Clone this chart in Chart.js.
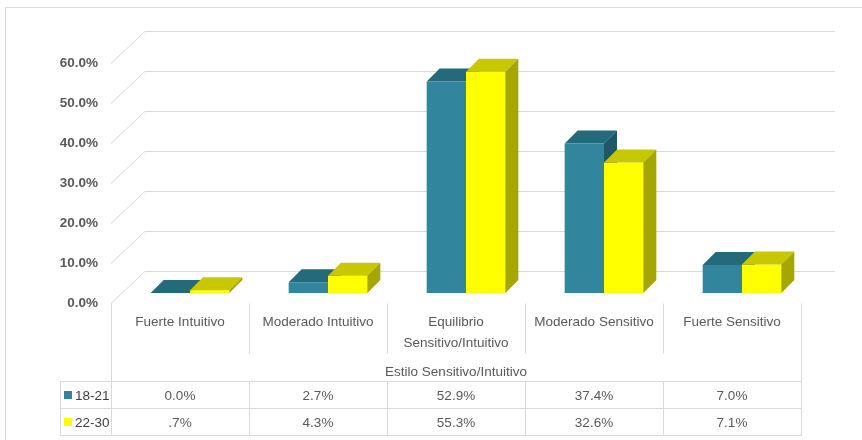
<!DOCTYPE html>
<html lang="es">
<head>
<meta charset="utf-8">
<title>Estilo Sensitivo/Intuitivo</title>
<script src="https://cdn.jsdelivr.net/npm/chart.js@4/dist/chart.umd.min.js"></script>
<style>
  html, body { margin: 0; padding: 0; background: #ffffff; }
  #wrap { width: 862px; height: 440px; position: relative; }
</style>
</head>
<body>
<div id="wrap"><canvas id="grafico" width="862" height="440"></canvas></div>
<script>
// Categorías del eje X
const categorias = [
  'Fuerte Intuitivo',
  'Moderado Intuitivo',
  ['Equilibrio', 'Sensitivo/Intuitivo'],
  'Moderado Sensitivo',
  'Fuerte Sensitivo'
];
// Porcentajes por grupo de edad
const serie18_21 = [0.0, 2.7, 52.9, 37.4, 7.0];
const serie22_30 = [0.7, 4.3, 55.3, 32.6, 7.1];
const nombresSeries = ['18-21', '22-30'];
// Marcas del eje Y
const ticksY = [0, 10, 20, 30, 40, 50, 60];
const tituloEjeX = 'Estilo Sensitivo/Intuitivo';

const FUENTE = '"Liberation Sans", Arial, sans-serif';
const colores = {
  frente: ['#31859C', '#FFFF00'],
  techo: ['#246A7A', '#C8C800'],
  lado: ['#1E5866', '#A6A600']
};
const GRIS = '#D9D9D9';
// Profundidad de las columnas y desplazamiento del plano de barras / pared de fondo
const PROF = 13, DESPL = 10, FONDO_X = 34, FONDO_Y = 32;

function fmt(v) {
  const s = v.toFixed(1);
  return (v > 0 && v < 1 ? s.replace(/^0/, '') : s) + '%';
}

function caras(ctx, bar, ci) {
  const p = bar.getProps(['x', 'y', 'base', 'width'], true);
  const l = p.x - p.width / 2, r = p.x + p.width / 2;
  ctx.fillStyle = colores.techo[ci];
  ctx.beginPath();
  ctx.moveTo(l, p.y); ctx.lineTo(r, p.y);
  ctx.lineTo(r + PROF, p.y - PROF); ctx.lineTo(l + PROF, p.y - PROF);
  ctx.closePath(); ctx.fill();
  ctx.fillStyle = colores.lado[ci];
  ctx.beginPath();
  ctx.moveTo(r, p.y); ctx.lineTo(r + PROF, p.y - PROF);
  ctx.lineTo(r + PROF, p.base - PROF); ctx.lineTo(r, p.base);
  ctx.closePath(); ctx.fill();
}

const columnas3D = {
  id: 'columnas3D',
  beforeDraw(chart) {
    const ctx = chart.ctx;
    ctx.save();
    ctx.fillStyle = '#ffffff';
    ctx.fillRect(0, 0, chart.width, chart.height);
    ctx.strokeStyle = GRIS; ctx.lineWidth = 1;
    ctx.strokeRect(5.5, 7.5, chart.width + 20, chart.height + 20);
    ctx.restore();
  },
  beforeDatasetsDraw(chart) {
    const ctx = chart.ctx, y = chart.scales.y, a = chart.chartArea;
    // pared de fondo y pared lateral
    ctx.save();
    ctx.strokeStyle = GRIS; ctx.lineWidth = 1;
    ticksY.forEach(v => {
      const py = Math.round(y.getPixelForValue(v)) + 0.5;
      ctx.beginPath();
      ctx.moveTo(a.left, py);
      ctx.lineTo(a.left + FONDO_X, py - FONDO_Y);
      ctx.lineTo(a.right + FONDO_X, py - FONDO_Y);
      ctx.stroke();
    });
    ctx.restore();
    // caras superiores y laterales de la primera serie
    ctx.save();
    ctx.translate(DESPL, -DESPL);
    chart.getDatasetMeta(0).data.forEach(b => caras(ctx, b, 0));
  },
  afterDatasetsDraw(chart) {
    const ctx = chart.ctx;
    chart.getDatasetMeta(1).data.forEach(b => caras(ctx, b, 1));
    ctx.restore();
  },
  afterDraw(chart) {
    const ctx = chart.ctx, x = chart.scales.x, a = chart.chartArea;
    const mitad = (x.getPixelForValue(1) - x.getPixelForValue(0)) / 2;
    const bordes = categorias.map((_, i) => Math.round(x.getPixelForValue(i) - mitad) + 0.5);
    bordes.push(Math.round(a.right) + 0.5);
    const top = Math.round(a.bottom) + 0.5;
    const f0 = 381.5, f1 = 408.5, f2 = 435.5, izq = 60.5;
    ctx.save();
    ctx.strokeStyle = GRIS; ctx.lineWidth = 1;
    ctx.beginPath();
    bordes.forEach((bx, i) => {
      if (i === 0 || i === bordes.length - 1) {
        ctx.moveTo(bx, top); ctx.lineTo(bx, f2);
      } else {
        ctx.moveTo(bx, top); ctx.lineTo(bx, top + 50);
        ctx.moveTo(bx, f0); ctx.lineTo(bx, f2);
      }
    });
    ctx.moveTo(izq, f0); ctx.lineTo(izq, f2);
    [f0, f1, f2].forEach(fy => { ctx.moveTo(izq, fy); ctx.lineTo(bordes[bordes.length - 1], fy); });
    ctx.stroke();

    const filas = [serie18_21, serie22_30];
    const centros = [(f0 + f1) / 2, (f1 + f2) / 2];
    ctx.font = '13.5px ' + FUENTE;
    ctx.textBaseline = 'middle';
    filas.forEach((serie, s) => {
      const cy = centros[s];
      ctx.fillStyle = colores.frente[s];
      ctx.fillRect(64, Math.round(cy) - 4, 8, 8);
      ctx.fillStyle = '#404040';
      ctx.textAlign = 'left';
      ctx.fillText(nombresSeries[s], 75, cy + 1);
      ctx.fillStyle = '#595959';
      ctx.textAlign = 'center';
      serie.forEach((v, i) => ctx.fillText(fmt(v), x.getPixelForValue(i), cy + 1));
    });
    ctx.restore();
  }
};

new Chart(document.getElementById('grafico'), {
  type: 'bar',
  data: {
    labels: categorias,
    datasets: [
      { label: nombresSeries[0], data: serie18_21, backgroundColor: colores.frente[0], borderWidth: 0, clip: false },
      { label: nombresSeries[1], data: serie22_30, backgroundColor: colores.frente[1], borderWidth: 0, clip: false }
    ]
  },
  options: {
    responsive: false,
    animation: false,
    devicePixelRatio: 1,
    categoryPercentage: 0.57,
    barPercentage: 1.0,
    layout: { padding: { top: 63, right: 61, bottom: 4, left: 0 } },
    plugins: { legend: { display: false }, tooltip: { enabled: false } },
    scales: {
      x: {
        offset: true,
        grid: { display: false, drawTicks: false },
        border: { display: false },
        ticks: {
          padding: 9, maxRotation: 0, autoSkip: false, color: '#595959',
          font: { family: FUENTE, size: 13.5, lineHeight: 1.55 }
        },
        title: {
          display: true, text: tituloEjeX, color: '#595959',
          font: { family: FUENTE, size: 13.5, lineHeight: 1.2 },
          padding: { top: 0, bottom: 56 }
        },
        afterFit(s) { s.height = 133; }
      },
      y: {
        min: 0, max: 60,
        grid: { display: false, drawTicks: false },
        border: { display: false },
        ticks: {
          stepSize: 10, padding: 13, color: '#595959',
          font: { family: FUENTE, size: 13.5, weight: 'bold' },
          callback: v => v.toFixed(1) + '%'
        },
        afterFit(s) { s.width = 111; }
      }
    }
  },
  plugins: [columnas3D]
});
</script>
</body>
</html>
